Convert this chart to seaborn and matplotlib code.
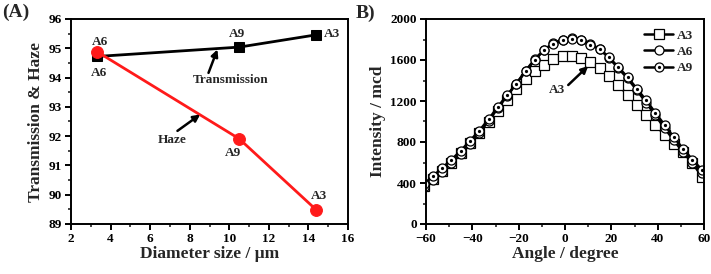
import matplotlib
matplotlib.use("Agg")
import matplotlib.pyplot as plt
from matplotlib.ticker import MultipleLocator
from matplotlib.lines import Line2D
from matplotlib.legend_handler import HandlerTuple
import seaborn as sns
import pandas as pd

# ---------------- data ----------------
# Panel A
diameter = [3.3, 10.5, 14.4]
transmission = [94.72, 95.04, 95.46]
haze = [94.89, 91.91, 89.48]
sample_names = ["A6", "A9", "A3"]

# Panel B
angle = [-61, -57, -53, -49, -45, -41, -37, -33, -29, -25, -21, -17, -13, -9, -5, -1,
         3, 7, 11, 15, 19, 23, 27, 31, 35, 39, 43, 47, 51, 55, 59, 63]
int_a3 = [370, 440, 520, 600, 690, 790, 890, 995, 1100, 1210, 1315, 1410, 1490, 1555, 1605, 1636,
          1640, 1620, 1580, 1520, 1445, 1355, 1260, 1160, 1060, 965, 870, 785, 700, 600, 460, 350]
int_a6 = [360, 430, 510, 595, 685, 785, 890, 1005, 1130, 1250, 1370, 1495, 1610, 1700, 1765, 1800,
          1815, 1800, 1760, 1705, 1620, 1520, 1420, 1305, 1185, 1060, 935, 815, 700, 595, 500, 410]
int_a9 = [390, 467, 547, 628, 715, 812, 911, 1021, 1143, 1256, 1369, 1488, 1601, 1697, 1760, 1795,
          1805, 1795, 1750, 1707, 1626, 1530, 1433, 1320, 1208, 1085, 966, 844, 734, 628, 531, 440]
series_b = ["A3", "A6", "A9"]

# ---------------- style ----------------
sns.set_style("ticks")
plt.rcParams['font.family'] = ['Liberation Serif', 'DejaVu Serif']
plt.rcParams['font.weight'] = 'bold'
plt.rcParams['axes.labelweight'] = 'bold'

fig = plt.figure(figsize=(7.11, 2.74), dpi=100)
axA = fig.add_axes([71 / 711, 50 / 274, 277 / 711, 205 / 274])
axB = fig.add_axes([426 / 711, 50 / 274, 278 / 711, 205 / 274])

def style_axes(ax):
    for s in ax.spines.values():
        s.set_linewidth(1.4)
        s.set_color("black")
    ax.tick_params(which="major", direction="out", length=4, width=1.4,
                   labelsize=9.5, colors="black", top=False, right=False, pad=2.5)
    ax.tick_params(which="minor", direction="out", length=2.5, width=1.2,
                   top=False, right=False)
    for lab in ax.get_xticklabels() + ax.get_yticklabels():
        lab.set_fontweight("bold")

# ---------------- panel A ----------------
dfA = pd.DataFrame({"d": diameter, "T": transmission, "H": haze})
sns.lineplot(data=dfA, x="d", y="T", ax=axA, color="black", marker="s",
             markersize=7.5, markeredgecolor="black", linewidth=2.0, sort=False)
sns.lineplot(data=dfA, x="d", y="H", ax=axA, color="#ff1a1a", marker="o",
             markersize=8.5, markeredgecolor="#ff1a1a", linewidth=2.0, sort=False)
axA.set_xlim(2, 16)
axA.set_ylim(89, 96)
axA.xaxis.set_major_locator(MultipleLocator(2))
axA.xaxis.set_minor_locator(MultipleLocator(1))
axA.yaxis.set_major_locator(MultipleLocator(1))
axA.yaxis.set_minor_locator(MultipleLocator(0.5))
axA.set_xlabel("Diameter size / μm", fontsize=12.5, fontweight="bold", labelpad=1)
axA.set_ylabel("Transmission & Haze", fontsize=12.5, fontweight="bold", labelpad=3)

tk = dict(fontsize=9.5, fontweight="bold", ha="center", va="center")
axA.text(3.45, 95.22, "A6", **tk)
axA.text(3.4, 94.16, "A6", **tk)
axA.text(10.4, 95.5, "A9", **tk)
axA.text(15.2, 95.5, "A3", **tk)
axA.text(10.2, 91.41, "A9", **tk)
axA.text(14.55, 89.95, "A3", **tk)
arr = dict(arrowstyle="-|>", lw=1.8, color="black", mutation_scale=10, shrinkA=0, shrinkB=0)
axA.annotate("", xy=(9.4, 94.96), xytext=(8.95, 94.16), arrowprops=arr)
axA.text(10.05, 93.91, "Transmission", **tk)
axA.annotate("", xy=(8.53, 92.74), xytext=(7.38, 92.18), arrowprops=arr)
axA.text(7.1, 91.87, "Haze", **tk)
style_axes(axA)

# ---------------- panel B ----------------
dfB = pd.DataFrame({"angle": angle, "A3": int_a3, "A6": int_a6, "A9": int_a9})
ms = 6.5
common = dict(color="black", linewidth=1.8, markersize=ms, markerfacecolor="white",
              markeredgecolor="black", markeredgewidth=0.9, sort=False)
sns.lineplot(data=dfB, x="angle", y="A3", ax=axB, marker="s", **common)
sns.lineplot(data=dfB, x="angle", y="A6", ax=axB, marker="o", **common)
sns.lineplot(data=dfB, x="angle", y="A9", ax=axB, marker="o", **common)
axB.plot(dfB["angle"], dfB["A9"], linestyle="none", marker="o", markersize=1.3,
         color="black")
axB.set_xlim(-60, 60)
axB.set_ylim(0, 2000)
axB.xaxis.set_major_locator(MultipleLocator(20))
axB.xaxis.set_minor_locator(MultipleLocator(10))
axB.yaxis.set_major_locator(MultipleLocator(400))
axB.yaxis.set_minor_locator(MultipleLocator(200))
axB.set_xlabel("Angle / degree", fontsize=12.5, fontweight="bold", labelpad=1)
axB.set_ylabel("Intensity / mcd", fontsize=12.5, fontweight="bold", labelpad=3)
axB.annotate("", xy=(10.0, 1541), xytext=(1.4, 1356), arrowprops=arr)
axB.text(-3.6, 1307, "A3", **tk)

lkw = dict(color="black", lw=1.8, markersize=ms, markerfacecolor="white",
           markeredgecolor="black", markeredgewidth=0.9)
h3 = Line2D([], [], marker="s", **lkw)
h6 = Line2D([], [], marker="o", **lkw)
h9 = Line2D([], [], marker="o", **lkw)
h9d = Line2D([], [], color="black", linestyle="none", marker="o", markersize=1.3)
axB.legend([h3, h6, (h9, h9d)], series_b, loc="upper right", frameon=False,
           prop={"weight": "bold", "size": 9.5}, handlelength=2.2, handletextpad=0.3,
           labelspacing=0.3, borderaxespad=0.4, numpoints=1,
           handler_map={tuple: HandlerTuple(ndivide=1)})
style_axes(axB)

# panel labels
fig.text(2 / 711, 1 - 12 / 274, "(A)", fontsize=14, fontweight="bold", va="center", ha="left")
fig.text(356 / 711, 1 - 13 / 274, "B)", fontsize=14, fontweight="bold", va="center", ha="left")

fig.savefig("out.png", dpi=100)
